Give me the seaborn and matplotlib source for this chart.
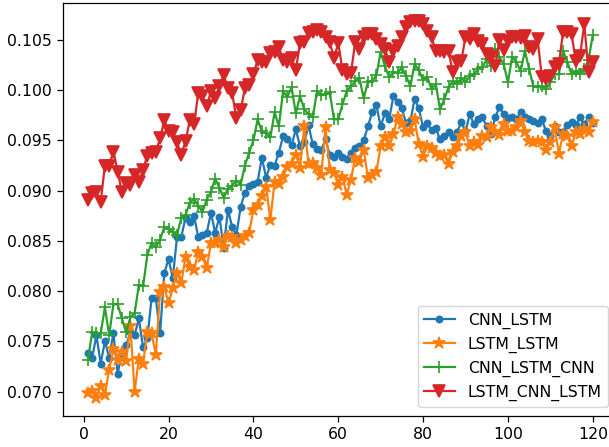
import numpy as np
import pandas as pd
import matplotlib
matplotlib.use("Agg")
import matplotlib.pyplot as plt
import seaborn as sns

epochs = list(range(1, 121))

cnn_lstm = [
    0.0738, 0.0734, 0.0756, 0.0728, 0.0750, 0.0734, 0.0758, 0.0718, 0.0738, 0.0746,
    0.0759, 0.0756, 0.0773, 0.0744, 0.0753, 0.0793, 0.0793, 0.0758, 0.0818, 0.0832,
    0.0813, 0.0854, 0.0854, 0.0873, 0.0869, 0.0875, 0.0854, 0.0856, 0.0858, 0.0878,
    0.0858, 0.0874, 0.0843, 0.0881, 0.0864, 0.0856, 0.0884, 0.0898, 0.0905, 0.0907,
    0.0909, 0.0933, 0.0913, 0.0926, 0.0925, 0.0938, 0.0954, 0.0951, 0.0945, 0.0961,
    0.0944, 0.0948, 0.0965, 0.0946, 0.0942, 0.0941, 0.0951, 0.0936, 0.0934, 0.0938,
    0.0934, 0.0932, 0.0938, 0.0943, 0.0944, 0.0950, 0.0964, 0.0978, 0.0985, 0.0964,
    0.0977, 0.0971, 0.0994, 0.0988, 0.0982, 0.0967, 0.0969, 0.0991, 0.0982, 0.0963,
    0.0967, 0.0960, 0.0962, 0.0951, 0.0954, 0.0958, 0.0953, 0.0958, 0.0968, 0.0959,
    0.0976, 0.0966, 0.0971, 0.0973, 0.0964, 0.0956, 0.0973, 0.0983, 0.0976, 0.0972,
    0.0973, 0.0971, 0.0978, 0.0973, 0.0971, 0.0969, 0.0967, 0.0971, 0.0959, 0.0954,
    0.0964, 0.0958, 0.0958, 0.0965, 0.0968, 0.0965, 0.0973, 0.0966, 0.0973, 0.0967,
]

lstm_lstm = [
    0.0699, 0.0701, 0.0694, 0.0706, 0.0697, 0.0722, 0.0742, 0.0732, 0.0739, 0.0731,
    0.0765, 0.0700, 0.0733, 0.0728, 0.0759, 0.0758, 0.0737, 0.0799, 0.0804, 0.0788,
    0.0803, 0.0818, 0.0808, 0.0834, 0.0824, 0.0821, 0.0839, 0.0834, 0.0823, 0.0848,
    0.0848, 0.0851, 0.0844, 0.0855, 0.0854, 0.0848, 0.0851, 0.0855, 0.0858, 0.0881,
    0.0886, 0.0895, 0.0904, 0.0871, 0.0909, 0.0907, 0.0914, 0.0924, 0.0927, 0.0936,
    0.0923, 0.0964, 0.0927, 0.0928, 0.0923, 0.0916, 0.0963, 0.0921, 0.0918, 0.0906,
    0.0914, 0.0896, 0.0911, 0.0933, 0.0929, 0.0941, 0.0913, 0.0916, 0.0919, 0.0944,
    0.0953, 0.0944, 0.0956, 0.0973, 0.0966, 0.0958, 0.0959, 0.0971, 0.0946, 0.0934,
    0.0944, 0.0943, 0.0938, 0.0935, 0.0936, 0.0927, 0.0939, 0.0944, 0.0954, 0.0958,
    0.0944, 0.0948, 0.0945, 0.0954, 0.0953, 0.0963, 0.0958, 0.0955, 0.0966, 0.0959,
    0.0959, 0.0963, 0.0969, 0.0958, 0.0949, 0.0948, 0.0949, 0.0948, 0.0941, 0.0948,
    0.0963, 0.0937, 0.0956, 0.0954, 0.0944, 0.0958, 0.0956, 0.0961, 0.0958, 0.0968,
]

cnn_lstm_cnn = [
    0.0732, 0.0759, 0.0758, 0.0758, 0.0784, 0.0756, 0.0787, 0.0787, 0.0773, 0.0759,
    0.0774, 0.0778, 0.0806, 0.0805, 0.0836, 0.0848, 0.0844, 0.0851, 0.0864, 0.0862,
    0.0859, 0.0856, 0.0873, 0.0876, 0.0888, 0.0892, 0.0885, 0.0879, 0.0891, 0.0899,
    0.0912, 0.0903, 0.0893, 0.0902, 0.0905, 0.0910, 0.0906, 0.0925, 0.0938, 0.0950,
    0.0971, 0.0959, 0.0957, 0.0953, 0.0978, 0.0964, 0.0999, 0.0993, 0.1003, 0.0977,
    0.0994, 0.0981, 0.0976, 0.0973, 0.0999, 0.0995, 0.0996, 0.0998, 0.0971, 0.0971,
    0.0986, 0.0999, 0.1004, 0.1009, 0.1012, 0.0992, 0.1008, 0.1009, 0.1015, 0.1038,
    0.1024, 0.1013, 0.1018, 0.1017, 0.1023, 0.1014, 0.1004, 0.1026, 0.1020, 0.1010,
    0.1013, 0.1001, 0.1006, 0.0981, 0.0991, 0.1003, 0.1009, 0.1006, 0.1012, 0.1008,
    0.1014, 0.1016, 0.1021, 0.1023, 0.1031, 0.1024, 0.1041, 0.1033, 0.1026, 0.1008,
    0.1033, 0.1028, 0.1019, 0.1039, 0.1021, 0.1004, 0.1003, 0.1004, 0.1001, 0.1008,
    0.1016, 0.1016, 0.1039, 0.1028, 0.1016, 0.1019, 0.1016, 0.1021, 0.1030, 0.1055,
]

lstm_cnn_lstm = [
    0.0891, 0.0898, 0.0899, 0.0889, 0.0925, 0.0925, 0.0939, 0.0919, 0.0899, 0.0908,
    0.0906, 0.0916, 0.0909, 0.0921, 0.0935, 0.0938, 0.0939, 0.0952, 0.0970, 0.0959,
    0.0958, 0.0948, 0.0936, 0.0949, 0.0970, 0.0966, 0.0997, 0.0994, 0.0984, 0.0999,
    0.0992, 0.1004, 0.1015, 0.1002, 0.0997, 0.0972, 0.0980, 0.1002, 0.1005, 0.1016,
    0.1030, 0.1028, 0.1028, 0.1037, 0.1038, 0.1043, 0.1030, 0.1028, 0.1032, 0.1020,
    0.1047, 0.1048, 0.1057, 0.1058, 0.1060, 0.1058, 0.1053, 0.1048, 0.1032, 0.1047,
    0.1020, 0.1016, 0.1017, 0.1048, 0.1041, 0.1053, 0.1056, 0.1056, 0.1051, 0.1046,
    0.1041, 0.1028, 0.1039, 0.1044, 0.1053, 0.1063, 0.1068, 0.1069, 0.1069, 0.1066,
    0.1059, 0.1053, 0.1039, 0.1039, 0.1038, 0.1039, 0.1018, 0.1028, 0.1029, 0.1053,
    0.1051, 0.1056, 0.1049, 0.1046, 0.1036, 0.1033, 0.1024, 0.1050, 0.1040, 0.1049,
    0.1053, 0.1053, 0.1052, 0.1054, 0.1043, 0.1041, 0.1051, 0.1013, 0.1011, 0.1014,
    0.1023, 0.1026, 0.1058, 0.1058, 0.1056, 0.1029, 0.1034, 0.1066, 0.1018, 0.1028,
]

model_names = ["CNN_LSTM", "LSTM_LSTM", "CNN_LSTM_CNN", "LSTM_CNN_LSTM"]
series = [cnn_lstm, lstm_lstm, cnn_lstm_cnn, lstm_cnn_lstm]
colors = ["#1f77b4", "#ff7f0e", "#2ca02c", "#d62728"]
markers = [".", "*", "+", "v"]

df = pd.concat(
    [pd.DataFrame({"epoch": epochs, "value": vals, "model": name})
     for name, vals in zip(model_names, series)],
    ignore_index=True,
)

fig = plt.figure(figsize=(6.09, 4.47), dpi=100)
ax = fig.add_axes([62.7 / 609, 31 / 447, 555.3 / 609, 413.3 / 447])

for name, col, mk in zip(model_names, colors, markers):
    sub = df[df["model"] == name]
    sns.lineplot(
        data=sub, x="epoch", y="value", ax=ax, color=col, marker=mk,
        markersize=9, markeredgecolor=col, markeredgewidth=1.2,
        linewidth=1.6, label=name, estimator=None, errorbar=None,
    )

ax.set_xlim(-4.95, 125.95)
ax.set_ylim(0.06758, 0.10871)
ax.set_xticks([0, 20, 40, 60, 80, 100, 120])
ax.set_yticks([0.070, 0.075, 0.080, 0.085, 0.090, 0.095, 0.100, 0.105])
ax.set_yticklabels([f"{v:.3f}" for v in [0.070, 0.075, 0.080, 0.085, 0.090, 0.095, 0.100, 0.105]])
ax.set_xlabel("")
ax.set_ylabel("")
ax.tick_params(labelsize=11.3, length=4.5, width=0.9)
for s in ax.spines.values():
    s.set_linewidth(0.9)

ax.legend(loc="lower right", bbox_to_anchor=(608 / 609, 40 / 447),
          bbox_transform=fig.transFigure, borderaxespad=0, fontsize=11.3)

fig.savefig("out.png", dpi=100)
